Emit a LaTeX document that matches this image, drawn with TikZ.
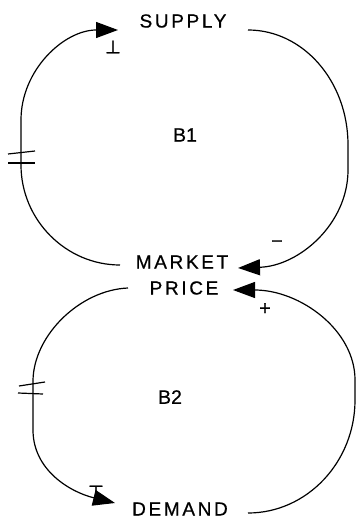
\documentclass[tikz,border=0pt]{standalone}
\usepackage{fontspec}
\setmainfont{Liberation Sans}
\newfontfamily\lblfont{Liberation Sans}[FakeBold=0.6]
\newfontfamily\symfont{DejaVu Sans}[FakeBold=1.5]
\usetikzlibrary{arrows.meta}
\tikzset{
  lbl/.style={inner sep=0pt, font=\lblfont\fontsize{19}{21}\selectfont\addfontfeatures{LetterSpace=14}},
  loopname/.style={inner sep=0pt, font=\lblfont\fontsize{19.5}{21}\selectfont},
  link/.style={line width=1.2pt, black},
  tip/.style={-{Triangle[length=22pt,width=16pt]}},
  sign/.style={inner sep=0pt, font=\lblfont\fontsize{20}{22}\selectfont},
  tsign/.style={inner sep=0pt, font=\symfont\fontsize{18}{20}\selectfont},
  delay/.style={line width=1.2pt, black}
}
\begin{document}
\begin{tikzpicture}[x=1pt,y=-1pt]
\useasboundingbox (0,0) rectangle (357,521);
% variables
\node[lbl] (sup) at (183,21) {SUPPLY};
\node[lbl] (mkt) at (182,262) {MARKET};
\node[lbl] (prc) at (184,288) {PRICE};
\node[lbl] (dem) at (180,509) {DEMAND};
\node[loopname] (b1) at (185,135) {B1};
\node[loopname] (b2) at (170,397) {B2};
% connectors
\coordinate (m1) at (120,265);
\coordinate (s1) at (118,30);
\coordinate (s2) at (248,30);
\coordinate (m2) at (238,268);
\coordinate (d2) at (248,513);
\coordinate (p2) at (233,290);
\coordinate (p1) at (128,288);
\coordinate (d1) at (115,503);
\draw[link,tip] (m1) .. controls (66,265) and (21,220) .. (21,165) -- (21,120)
   .. controls (21,70) and (64,30) .. (s1);
\draw[link,tip] (s2) .. controls (303,30) and (348,81) .. (348,145) -- (348,170)
   .. controls (348,224) and (299,266) .. (m2);
\draw[link,tip] (d2) .. controls (307,513) and (355,462) .. (355,400) -- (355,380)
   .. controls (355,330) and (300,290) .. (p2);
\draw[link,tip] (p1) .. controls (80,290) and (34,335) .. (33,380) -- (33,430)
   .. controls (33,470) and (70,492) .. (d1);
% delay marks
\draw[delay] (8,154) -- (35,151);
\draw[delay] (8,163) -- (35,163);
\draw[delay] (19,386) -- (45,382);
\draw[delay] (18,393) -- (43,394);
% polarity signs
\node[tsign] (sg1) at (113,47) {⊥};
\node[sign] (sg2) at (277,244) {−};
\node[sign] (sg3) at (265,309) {+};
\node[tsign] (sg4) at (96,492) {⊤};
\end{tikzpicture}
\end{document}
